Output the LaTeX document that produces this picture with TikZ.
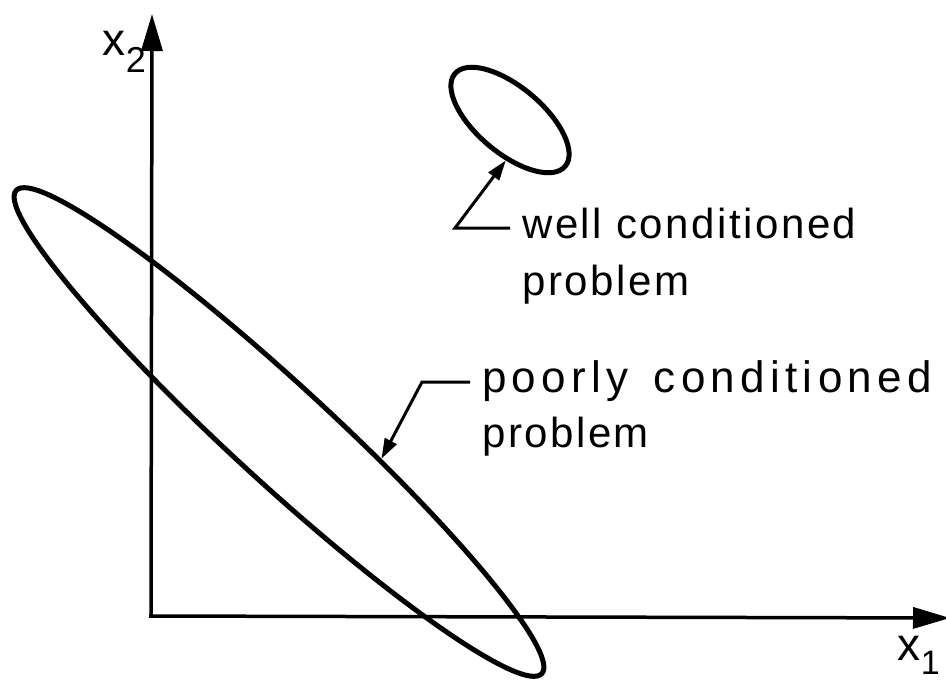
\documentclass[tikz,border=0pt]{standalone}
\usepackage{fontspec}
\setmainfont{Liberation Sans}
\newfontfamily\lettering{Liberation Sans}[LetterSpace=6]
\newfontfamily\widelettering{Liberation Sans}[LetterSpace=12]
\usetikzlibrary{
    arrows.meta,
    shapes.geometric,
    positioning
}
\tikzstyle{axis} = [
    line width=3.5pt,
    -{Triangle[length=37pt,width=21pt]}
]
\tikzstyle{region} = [
    ellipse,
    draw,
    line width=5pt,
    inner sep=0pt
]
\tikzstyle{leader} = [
    line width=3pt,
    -{Triangle[length=20pt,width=13pt]}
]
\tikzstyle{lbl} = [
    font=\lettering\fontsize{42}{50}\selectfont,
    inner xsep=12pt,
    inner ysep=0pt,
    text height=30pt,
    text depth=10pt
]
\tikzstyle{axlbl} = [
    font=\lettering\fontsize{46}{50}\selectfont,
    inner sep=0pt
]

\begin{document}
\begin{tikzpicture}[x=1pt, y=-1pt]
        \useasboundingbox (0,0) rectangle (946,686);
        \clip (0,0) rectangle (946,686);

        % Axes
        \coordinate (origin) at (151,616);
        \coordinate (ytip) at (152,14);
        \coordinate (xtip) at (950,618);
        \draw[axis] (origin) -- (ytip);
        \draw[axis] ([xshift=-2pt]origin) -- (xtip);
        \node[axlbl, anchor=base east] (ylabel) at (146,55) {x\raisebox{-17pt}{\fontsize{36}{36}\selectfont 2}};
        \node[axlbl, anchor=base east] (xlabel) at (940,660) {x\raisebox{-14pt}{\fontsize{34}{34}\selectfont 1}};

        % Regions
        \node[region, minimum width=714pt, minimum height=98pt, rotate=-42.6] (poor) at (279,432) {};
        \node[region, minimum width=144pt, minimum height=66pt, rotate=-40] (good) at (510,120) {};

        % Labels
        \node[lbl, anchor=base west] (well) at (510,238) {well conditioned};
        \node[lbl, below right=17pt and 0pt of well.south west] (wellprob) {problem};
        \node[lbl, anchor=base west] (poorly) at (470,392) {\widelettering\fontsize{44}{50}\selectfont poorly\hspace{8pt} conditioned};
        \node[lbl, below right=15pt and 0pt of poorly.south west] (poorprob) {problem};

        % Leaders
        \draw[leader] (well.west) -- ++(-55,0) -- (good.-56);
        \draw[leader] (poorly.west) -- ++(-48,0) -- (poor.28);
    \end{tikzpicture}
\end{document}
